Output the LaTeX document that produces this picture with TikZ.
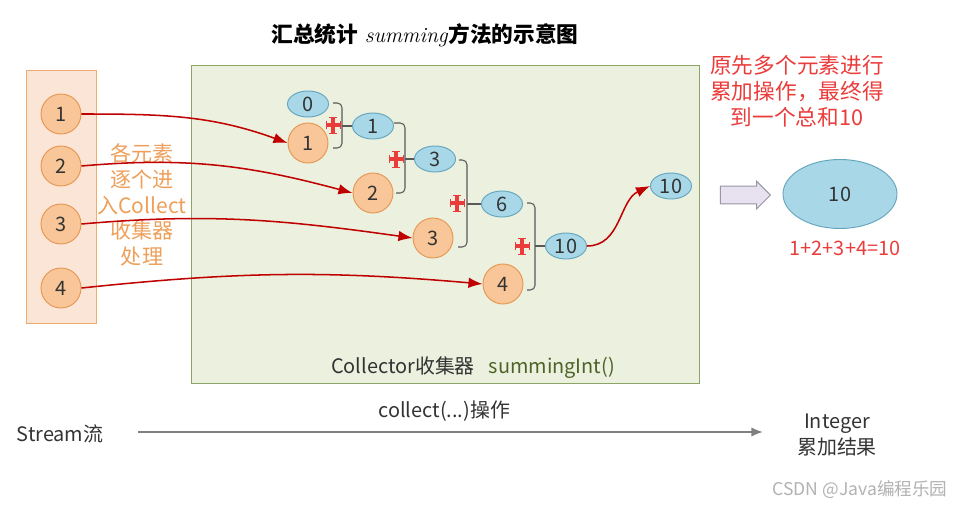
\documentclass[tikz,border=0pt]{standalone}
\usepackage{fontspec}
\newfontfamily\cjk{Noto Sans CJK SC}
\usetikzlibrary{arrows.meta,shapes.geometric,shapes.arrows,positioning}

\definecolor{boxorange}{RGB}{251,229,214}
\definecolor{lineorange}{RGB}{240,172,112}
\definecolor{ballfill}{RGB}{248,198,152}
\definecolor{ballline}{RGB}{230,150,80}
\definecolor{notetext}{RGB}{238,160,90}
\definecolor{boxgreen}{RGB}{235,241,222}
\definecolor{linegreen}{RGB}{140,165,100}
\definecolor{sumgreen}{RGB}{79,98,40}
\definecolor{valfill}{RGB}{168,216,232}
\definecolor{valline}{RGB}{100,165,190}
\definecolor{flowred}{RGB}{192,0,0}
\definecolor{hintred}{RGB}{235,60,60}
\definecolor{textgray}{RGB}{51,51,51}
\definecolor{axisgray}{RGB}{128,128,128}
\definecolor{blockfill}{RGB}{232,226,240}
\definecolor{blockline}{RGB}{150,150,165}

\begin{document}
\begin{tikzpicture}[x=0.03cm,y=-0.03cm,>={Latex[length=12pt,width=9pt]}]
\tikzset{
  elem/.style={circle,draw=ballline,fill=ballfill,line width=0.8pt,minimum size=1.2cm,inner sep=0pt,
    font=\cjk\fontsize{17}{17}\selectfont,text=textgray},
  val/.style={ellipse,draw=valline,fill=valfill,line width=0.8pt,minimum width=1.23cm,minimum height=0.78cm,
    inner sep=0pt,font=\cjk\fontsize{17}{17}\selectfont,text=textgray},
  feed/.style={->,draw=flowred,line width=1.3pt},
  brk/.style={draw=black!65,line width=0.9pt,rounded corners=4pt},
  txt/.style={font=\cjk\fontsize{17}{22}\selectfont,text=textgray,align=center,inner sep=0pt},
  hint/.style={txt,font=\cjk\fontsize{18.5}{22}\selectfont,text=hintred},
  plus/.pic={
    \draw[hintred,line width=3pt] (-7,0) -- (7,0) (0,-8) -- (0,8);
    \draw[hintred,line width=0.8pt] (-7,-4) -- (-7,4) (7,-4) -- (7,4) (-4,-8) -- (4,-8) (-4,8) -- (4,8);
  }
}
\fill[white] (0,0) rectangle (954,510);
\useasboundingbox (0,0) rectangle (954,510);

% title
\node[font=\fontsize{18.5}{18.5}\selectfont] (title) at (425,35)
  {{\cjk\bfseries 汇总统计} \textit{summing}{\cjk\bfseries 方法的示意图}};

% stream and collector boxes
\node[draw=lineorange,fill=boxorange,line width=0.8pt,minimum width=2.1cm,minimum height=7.59cm] (src) at (61,197) {};
\node[draw=linegreen,fill=boxgreen,line width=0.8pt,minimum width=15.24cm,minimum height=9.54cm] (coll) at (445,224) {};

% elements of the stream
\node[elem] (l1) at (61,114) {1};
\node[elem] (l2) at (61,166) {2};
\node[elem] (l3) at (61,224) {3};
\node[elem] (l4) at (61,288) {4};

\node[txt,text=notetext,font=\cjk\fontsize{18}{22}\selectfont] (feednote) at (142,205)
  {各元素\\逐个进\\入Collect\\收集器\\处理};

% inside the collector
\node[val] (r0) at (308,104) {0};
\node[elem] (c1) at (308,143) {1};
\node[val] (r1) at (373,126) {1};
\node[elem] (c2) at (373,193) {2};
\node[val] (r3) at (435,159) {3};
\node[elem] (c3) at (433,238) {3};
\node[val] (r6) at (502,204) {6};
\node[elem] (c4) at (503,284) {4};
\node[val] (r10) at (566,246) {10};
\node[val] (fin) at (671,186) {10};

\draw[feed] (l1.east) to[out=0,in=160] (c1.west);
\draw[feed] (l2.east) to[out=5,in=165] (c2.west);
\draw[feed] (l3.east) to[out=5,in=172] (c3.west);
\draw[feed] (l4.east) to[out=6,in=175] (c4.west);
\draw[feed] (r10.east) to[out=0,in=205] (fin.west);

% partial sums
\draw[brk] (333,103) -| (342,126) |- (333,148);
\draw[brk] (342,126) -- (r1.west);
\draw[brk] (394,123) -| (405,159) |- (396,193);
\draw[brk] (405,159) -- (r3.west);
\draw[brk] (459,160) -| (467,204) |- (458,247);
\draw[brk] (467,204) -- (r6.west);
\draw[brk] (527,203) -| (535,246) |- (527,290);
\draw[brk] (535,246) -- (r10.west);
\pic at (333,125) {plus};
\pic at (396,159) {plus};
\pic at (457,203) {plus};
\pic at (522,246) {plus};

\node[txt] (colltitle) at (473,368) {Collector收集器\hspace{0.7em}\textcolor{sumgreen}{summingInt()}};

% result
\node[single arrow,draw=blockline,fill=blockfill,line width=0.8pt,minimum height=1.5cm,
  single arrow head extend=0.15cm,inner sep=0pt] (blk) at (741,195) {\rule{0pt}{0.5cm}};
\node[ellipse,draw=valline,fill=valfill,line width=0.8pt,minimum width=3.42cm,minimum height=2.07cm,
  font=\cjk\fontsize{17}{17}\selectfont,text=textgray] (total) at (840,194) {10};
\node[hint] (sumnote) at (797,91) {原先多个元素进行\\累加操作，最终得\\到一个总和10};
\node[hint,font=\cjk\fontsize{17}{17}\selectfont] (sumeq) at (845,248) {1+2+3+4=10};

% bottom line
\node[txt] (stream) at (60,434) {Stream流};
\node[txt] (result) at (837,435) {Integer\\累加结果};
\coordinate (ax0) at (138,432);
\coordinate (ax1) at (763,432);
\draw[axisgray,line width=1.6pt,-{Latex[length=10pt,width=8pt]}] (ax0) -- node[txt,above=8pt,pos=0.49] (op) {collect(...)操作} (ax1);

\node[txt,text=black!30,font=\cjk\fontsize{15}{15}\selectfont] (mark) at (860,490) {CSDN @Java编程乐园};
\end{tikzpicture}
\end{document}
